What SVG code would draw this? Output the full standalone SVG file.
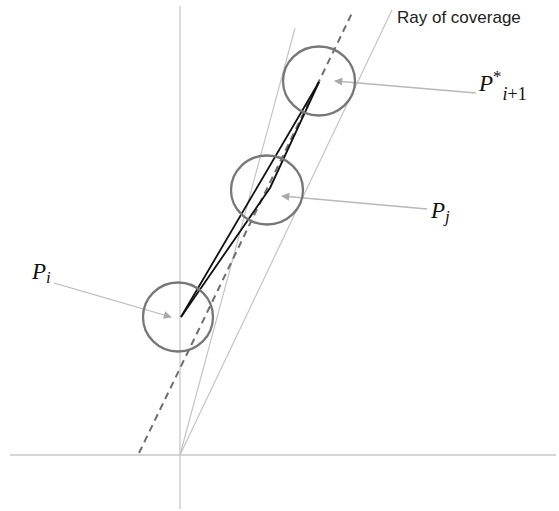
<svg xmlns="http://www.w3.org/2000/svg" width="559" height="511" viewBox="0 0 559 511">
<style>
.axis{stroke:#c8c8c8;stroke-width:1.3;fill:none}
.ray{stroke:#c4c4c4;stroke-width:1.2;fill:none}
.dash{stroke:#6e6e6e;stroke-width:2;stroke-dasharray:7 5;fill:none}
.circ{stroke:#777;stroke-width:2.3;fill:none}
.path{stroke:#111;stroke-width:1.8;fill:none;stroke-linejoin:round}
.ptr{stroke:#b8b8b8;stroke-width:1.3;fill:none;marker-end:url(#ah)}
.lbl{font-family:"Liberation Sans",Arial,sans-serif;font-size:17px;fill:#222}
.math{font-family:"Liberation Serif","DejaVu Serif",serif;font-style:italic;fill:#111}
</style>
<defs>
<marker id="ah" viewBox="0 0 10 10" refX="9" refY="5" markerWidth="9" markerHeight="8" markerUnits="userSpaceOnUse" orient="auto">
<path d="M0,0 L10,5 L0,10 Z" fill="#a8a8a8"/>
</marker>
</defs>
<g id="axes">
<line class="axis" x1="180" y1="6" x2="180" y2="509"/>
<line class="axis" x1="10" y1="455" x2="556" y2="455"/>
</g>
<g id="connectors">
<line class="ray" x1="180" y1="455" x2="295" y2="28"/>
<line class="ray" x1="180" y1="455" x2="392" y2="10"/>
<line class="dash" x1="139" y1="453" x2="353" y2="11"/>
<polyline class="path" points="181,317 319,82"/>
<polyline class="path" points="181,317 270,188 319,82"/>
<line class="ptr" x1="476" y1="93" x2="335" y2="81"/>
<line class="ptr" x1="427" y1="209" x2="282" y2="196"/>
<line class="ptr" x1="54" y1="283" x2="171" y2="317"/>
</g>
<g id="node-pi1">
<ellipse class="circ" cx="319" cy="81" rx="36" ry="34.5"/>
<text class="math" x="479" y="91" font-size="23">P<tspan font-size="17" font-style="normal" dy="-9">*</tspan><tspan font-size="18" dy="18" dx="1">i</tspan><tspan font-size="18" font-style="normal">+1</tspan></text>
</g>
<g id="node-pj">
<ellipse class="circ" cx="267" cy="190" rx="36" ry="34.5"/>
<text class="math" x="431" y="218" font-size="23">P<tspan font-size="17" dy="4">j</tspan></text>
</g>
<g id="node-pi">
<ellipse class="circ" cx="178" cy="317" rx="35" ry="34.5"/>
<text class="math" x="32" y="279" font-size="23">P<tspan font-size="17" dy="4">i</tspan></text>
</g>
<g id="label-ray">
<text class="lbl" x="397" y="23">Ray of coverage</text>
</g>
</svg>
